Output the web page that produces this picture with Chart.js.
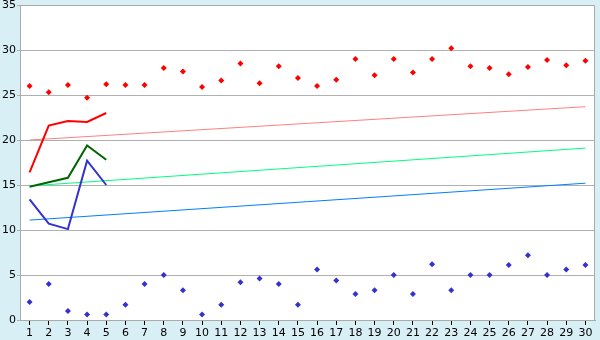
<!DOCTYPE html>
<html>
<head>
<meta charset="utf-8">
<script src="https://cdn.jsdelivr.net/npm/chart.js@4/dist/chart.umd.min.js"></script>
<style>
  html, body { margin: 0; padding: 0; background: #d9eff6; }
  #wrap { width: 600px; height: 340px; }
</style>
</head>
<body>
<div id="wrap"><canvas id="grafica" width="600" height="340"></canvas></div>
<script>
const dias = ['1','2','3','4','5','6','7','8','9','10','11','12','13','14','15','16','17','18','19','20','21','22','23','24','25','26','27','28','29','30'];

const maxPuntos = [26.0, 25.3, 26.1, 24.7, 26.2, 26.1, 26.1, 28.0, 27.6, 25.9,
                   26.6, 28.5, 26.3, 28.2, 26.9, 26.0, 26.7, 29.0, 27.2, 29.0,
                   27.5, 29.0, 30.2, 28.2, 28.0, 27.3, 28.1, 28.9, 28.3, 28.8];
const minPuntos = [2.0, 4.0, 1.0, 0.6, 0.6, 1.7, 4.0, 5.0, 3.3, 0.6,
                   1.7, 4.2, 4.6, 4.0, 1.7, 5.6, 4.4, 2.9, 3.3, 5.0,
                   2.9, 6.2, 3.3, 5.0, 5.0, 6.1, 7.2, 5.0, 5.6, 6.1];

const lineaMax = [16.4, 21.6, 22.1, 22.0, 23.0];
const lineaMed = [14.8, 15.3, 15.8, 19.4, 17.8];
const lineaMin = [13.4, 10.7, 10.1, 17.7, 15.0];

// tendencias: valor en el dia 1 y en el dia 30
const tendMax = [20.0, 23.7];
const tendMed = [14.9, 19.1];
const tendMin = [11.1, 15.2];

function extremos(par) {
  const d = dias.map(() => null);
  d[0] = par[0];
  d[d.length - 1] = par[1];
  return d;
}

const borde = {
  id: 'borde',
  afterDraw(chart) {
    const a = chart.chartArea, ctx = chart.ctx;
    ctx.save();
    ctx.strokeStyle = '#aaaaaa';
    ctx.lineWidth = 1;
    ctx.beginPath();
    ctx.moveTo(a.left, a.top + 0.5);
    ctx.lineTo(a.right - 0.5, a.top + 0.5);
    ctx.lineTo(a.right - 0.5, a.bottom);
    ctx.stroke();
    ctx.restore();
  }
};

const fondo = {
  id: 'fondo',
  beforeDraw(chart) {
    const a = chart.chartArea, ctx = chart.ctx;
    ctx.save();
    ctx.fillStyle = '#ffffff';
    ctx.fillRect(a.left, a.top, a.right - a.left, a.bottom - a.top);
    ctx.restore();
  }
};

new Chart(document.getElementById('grafica'), {
  type: 'line',
  data: {
    labels: dias,
    datasets: [
      { data: maxPuntos, showLine: false, pointStyle: 'rectRot', pointRadius: 3, pointBackgroundColor: '#ff0000', pointBorderWidth: 0, order: 1 },
      { data: minPuntos, showLine: false, pointStyle: 'rectRot', pointRadius: 3, pointBackgroundColor: '#3333cc', pointBorderWidth: 0, order: 1 },
      { data: lineaMax, borderColor: '#ff0000', borderWidth: 2, pointRadius: 0, tension: 0, order: 2 },
      { data: lineaMed, borderColor: '#006600', borderWidth: 2, pointRadius: 0, tension: 0, order: 2 },
      { data: lineaMin, borderColor: '#3333cc', borderWidth: 2, pointRadius: 0, tension: 0, order: 2 },
      { data: extremos(tendMax), borderColor: '#ff8080', borderWidth: 1, pointRadius: 0, spanGaps: true, order: 3 },
      { data: extremos(tendMed), borderColor: '#00ff80', borderWidth: 1, pointRadius: 0, spanGaps: true, order: 3 },
      { data: extremos(tendMin), borderColor: '#0080ff', borderWidth: 1, pointRadius: 0, spanGaps: true, order: 3 }
    ]
  },
  options: {
    responsive: false,
    animation: false,
    layout: { padding: { top: 5, right: 5, left: 0, bottom: 0 } },
    plugins: { legend: { display: false }, tooltip: { enabled: false } },
    scales: {
      x: {
        offset: true,
        grid: { drawOnChartArea: false, drawTicks: true, tickLength: 5, color: '#000000' },
        border: { color: '#aaaaaa' },
        ticks: { color: '#000000', font: { family: 'DejaVu Sans', size: 11 }, padding: 2, maxRotation: 0, autoSkip: false },
        afterFit(s) { s.height = 20; s.paddingLeft = 0; s.paddingRight = 0; }
      },
      y: {
        min: 0, max: 35,
        grid: { color: '#b0b0b0', tickLength: 3 },
        border: { color: '#aaaaaa' },
        ticks: { stepSize: 5, color: '#000000', font: { family: 'DejaVu Sans', size: 11 }, padding: 1 },
        afterFit(s) { s.width = 20; s.paddingTop = 0; s.paddingBottom = 0; }
      }
    }
  },
  plugins: [fondo, borde]
});
</script>
</body>
</html>
